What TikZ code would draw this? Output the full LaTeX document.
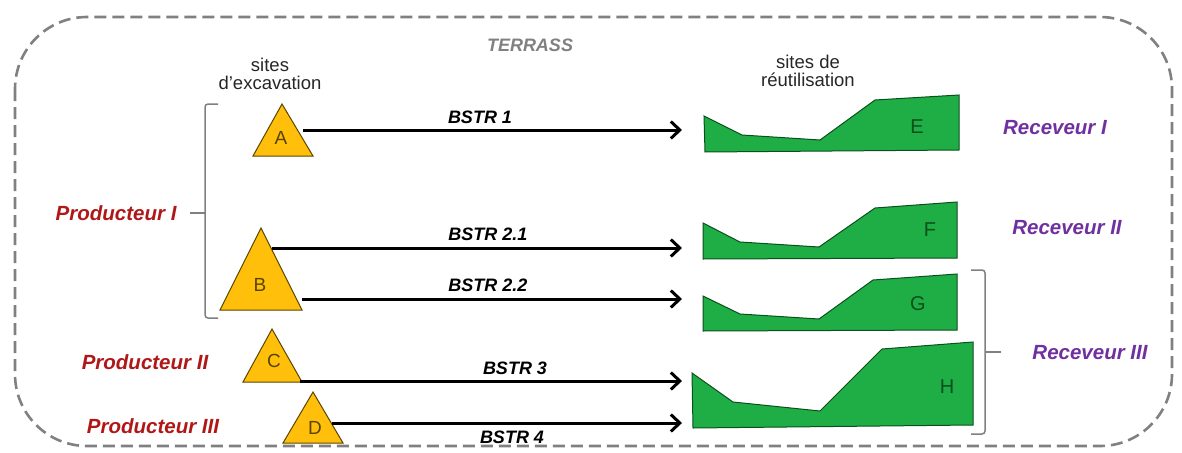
\documentclass[tikz,border=0pt]{standalone}
\usepackage{fontspec}
\setmainfont{Liberation Sans}
\usetikzlibrary{arrows.meta}
\definecolor{tri}{HTML}{FFBF0A}
\definecolor{trid}{HTML}{5A4500}
\definecolor{grn}{HTML}{1FAE45}
\definecolor{grnd}{HTML}{0B4F1C}
\definecolor{prod}{HTML}{B01818}
\definecolor{recv}{HTML}{7030A0}
\definecolor{bord}{HTML}{808080}
\tikzset{
  tribox/.style={fill=tri,draw=trid,line width=1pt,line join=miter},
  sitebox/.style={fill=grn,draw=grnd,line width=1pt},
  flow/.style={line width=3pt,-{Straight Barb[length=9pt,width=17pt,line width=3pt]}},
  blab/.style={font=\fontsize{18}{20}\selectfont\bfseries\itshape},
  plab/.style={font=\fontsize{20.5}{23}\selectfont\bfseries\itshape,text=prod},
  rlab/.style={font=\fontsize{20.5}{23}\selectfont\bfseries\itshape,text=recv},
  hdr/.style={font=\fontsize{18.5}{21}\selectfont,align=center,text=black!85},
  letter/.style={font=\fontsize{19}{21}\selectfont},
  gletter/.style={font=\fontsize{20}{22}\selectfont,text=grnd},
  brk/.style={draw=bord,line width=1.5pt,rounded corners=3pt},
}
\begin{document}
\begin{tikzpicture}[x=1pt,y=-1pt]
\useasboundingbox (0,0) rectangle (1182,452);
% border
\draw[bord,line width=2.6pt,dash pattern=on 12pt off 6pt,rounded corners=72pt] (15,17) rectangle (1172,446);
\node[font=\fontsize{18}{20}\selectfont\bfseries\itshape,text=bord] (terrass) at (530,45) {TERRASS};
% headers
\node[hdr] (hexc) at (270,74) {sites\\[-3pt]d’excavation};
\node[hdr] (hreu) at (808,71) {sites de\\[-3pt]réutilisation};
% triangles
\draw[tribox] (282,104) -- (313,156) -- (253,156) -- cycle;
\node[letter,text=trid] (A) at (281,138) {A};
\draw[tribox] (261,228) -- (302,310) -- (220,310) -- cycle;
\node[letter,text=trid] (B) at (260,285) {B};
\draw[tribox] (272,329) -- (302,382) -- (243,382) -- cycle;
\node[letter,text=trid] (C) at (274,361) {C};
\draw[tribox] (313,392) -- (343,443) -- (283,443) -- cycle;
\node[letter,text=trid] (D) at (315,428) {D};
% green sites
\draw[sitebox] (704,116) -- (742,135) -- (820,140) -- (875,100) -- (959,95) -- (959,150) -- (705,152) -- cycle;
\node[gletter] (E) at (917,127) {E};
\draw[sitebox] (703,223) -- (740,242) -- (819,247) -- (875,208) -- (957,202) -- (957,258) -- (703,259) -- cycle;
\node[gletter] (F) at (930,230) {F};
\draw[sitebox] (703,296) -- (740,314) -- (819,319) -- (873,280) -- (957,274) -- (957,330) -- (703,331) -- cycle;
\node[gletter] (G) at (918,304) {G};
\draw[sitebox] (692,373) -- (733,402) -- (820,411) -- (882,349) -- (973,342) -- (973,425) -- (693,428) -- cycle;
\node[gletter] (H) at (947,387) {H};
% connector endpoints
\coordinate (a1) at (303,130); \coordinate (e1) at (682,130);
\coordinate (b1) at (272,248); \coordinate (f1) at (682,248);
\coordinate (b2) at (302,299); \coordinate (g1) at (682,299);
\coordinate (c1) at (300,381); \coordinate (h1) at (682,381);
\coordinate (d1) at (332,423); \coordinate (h2) at (682,423);
\draw[flow] (a1) -- (e1);
\draw[flow] (b1) -- (f1);
\draw[flow] (b2) -- (g1);
\draw[flow] (c1) -- (h1);
\draw[flow] (d1) -- (h2);
\node[blab] (l1) at (480,117) {BSTR 1};
\node[blab] (l21) at (488,234) {BSTR 2.1};
\node[blab] (l22) at (488,285) {BSTR 2.2};
\node[blab] (l3) at (515,368) {BSTR 3};
\node[blab] (l4) at (512,437) {BSTR 4};
% brackets
\draw[brk] (218,104) -- (205,104) -- (205,318) -- (218,318);
\coordinate (pk) at (190,213);
\draw[brk] (205,213) -- (pk);
\draw[brk] (971,270) -- (985,270) -- (985,434) -- (971,434);
\coordinate (rk) at (1001,352);
\draw[brk] (985,352) -- (rk);
% producers / receivers
\node[plab,anchor=east] (p1) at (180,213) {Producteur I};
\node[plab] (p2) at (145,362) {Producteur II};
\node[plab] (p3) at (153,426) {Producteur III};
\node[rlab] (r1) at (1055,128) {Receveur I};
\node[rlab] (r2) at (1067,228) {Receveur II};
\node[rlab] (r3) at (1090,353) {Receveur III};
\end{tikzpicture}
\end{document}
